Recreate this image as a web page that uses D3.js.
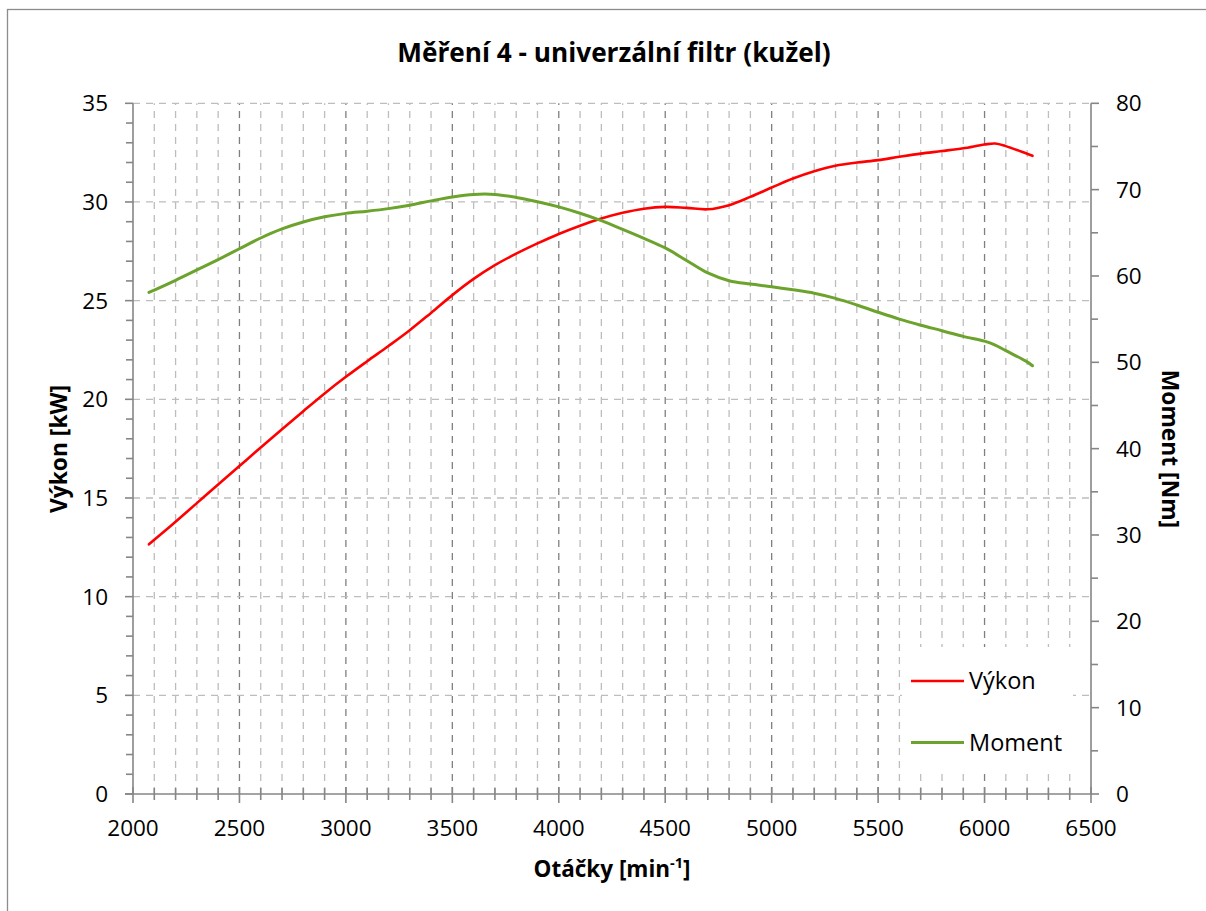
<!DOCTYPE html>
<html>
<head>
<meta charset="utf-8">
<script src="https://cdn.jsdelivr.net/npm/d3@7"></script>
<style>
  html, body { margin: 0; padding: 0; background: #fff; }
  svg { display: block; }
  text { font-family: "Open Sans", Lato, sans-serif; fill: #000; }
</style>
</head>
<body>
<svg id="chart" width="1206" height="911"></svg>
<script>
// Engine speed [rpm]
const rpm = [2075, 2100, 2200, 2300, 2400, 2500, 2600, 2700, 2800, 2900,
             3000, 3100, 3200, 3300, 3400, 3500, 3600, 3700, 3800, 3900,
             4000, 4100, 4200, 4300, 4400, 4500, 4600, 4700, 4800, 4900,
             5000, 5100, 5200, 5300, 5400, 5500, 5600, 5700, 5800, 5900,
             6000, 6050, 6100, 6200, 6225];
// Power [kW]
const vykon = [12.65, 12.88, 13.8, 14.74, 15.68, 16.62, 17.56, 18.48, 19.4, 20.3,
               21.14, 21.93, 22.7, 23.5, 24.38, 25.28, 26.1, 26.8, 27.38, 27.9,
               28.38, 28.8, 29.16, 29.45, 29.66, 29.75, 29.7, 29.63, 29.84, 30.26,
               30.73, 31.19, 31.56, 31.84, 32.0, 32.12, 32.29, 32.45, 32.58, 32.72,
               32.91, 32.96, 32.83, 32.44, 32.34];
// Torque [Nm]
const moment = [58.1, 58.37, 59.5, 60.7, 61.9, 63.15, 64.4, 65.45, 66.25, 66.85,
                67.25, 67.5, 67.8, 68.2, 68.7, 69.15, 69.45, 69.45, 69.1, 68.6,
                68.0, 67.26, 66.4, 65.4, 64.36, 63.25, 61.8, 60.35, 59.45, 59.07,
                58.76, 58.4, 58.0, 57.4, 56.64, 55.8, 55.0, 54.3, 53.66, 53.0,
                52.45, 52.0, 51.35, 50.05, 49.6];

const xTicks = [2000, 2500, 3000, 3500, 4000, 4500, 5000, 5500, 6000, 6500];
const yLeftTicks = [0, 5, 10, 15, 20, 25, 30, 35];
const yRightTicks = [0, 10, 20, 30, 40, 50, 60, 70, 80];

const title = "Měření 4 - univerzální filtr (kužel)";
const seriesNames = ["Výkon", "Moment"];

const svg = d3.select("#chart");
const plot = { left: 133, right: 1091, top: 103.3, bottom: 794 };

const x = d3.scaleLinear().domain([2000, 6500]).range([plot.left, plot.right]);
const yL = d3.scaleLinear().domain([0, 35]).range([plot.bottom, plot.top]);
const yR = d3.scaleLinear().domain([0, 80]).range([plot.bottom, plot.top]);

const axisColor = "#868686";
const gridLight = "#bdbdbd";
const gridDark = "#7f7f7f";

// outer chart frame
svg.append("rect")
  .attr("x", 7.5).attr("y", 9.5)
  .attr("width", 1220).attr("height", 920)
  .attr("fill", "#fff").attr("stroke", "#8c8c8c").attr("stroke-width", 1.3);

// vertical grid: every 100 rpm, darker every 500
const vGrid = d3.range(2100, 6500, 100);
svg.append("g").selectAll("line").data(vGrid).join("line")
  .attr("x1", d => x(d)).attr("x2", d => x(d))
  .attr("y1", plot.bottom).attr("y2", plot.top)
  .attr("stroke", d => d % 500 === 0 ? gridDark : gridLight)
  .attr("stroke-width", 1.3)
  .attr("stroke-dasharray", "7,6");

// horizontal grid at major left-axis ticks
svg.append("g").selectAll("line").data(yLeftTicks.filter(d => d > 0)).join("line")
  .attr("x1", plot.left).attr("x2", plot.right)
  .attr("y1", d => yL(d)).attr("y2", d => yL(d))
  .attr("stroke", gridLight)
  .attr("stroke-width", 1.3)
  .attr("stroke-dasharray", "7,6");

// left axis
const gL = svg.append("g");
gL.append("line").attr("x1", plot.left).attr("x2", plot.left)
  .attr("y1", plot.top).attr("y2", plot.bottom)
  .attr("stroke", axisColor).attr("stroke-width", 1.6);
gL.selectAll("line.t").data(d3.range(0, 36, 1)).join("line").attr("class", "t")
  .attr("x1", d => plot.left - (d % 5 === 0 ? 8 : 7)).attr("x2", plot.left)
  .attr("y1", d => yL(d)).attr("y2", d => yL(d))
  .attr("stroke", axisColor).attr("stroke-width", 1.6);
gL.selectAll("text").data(yLeftTicks).join("text")
  .attr("x", 108).attr("y", d => yL(d))
  .attr("dy", "0.36em").attr("text-anchor", "end")
  .attr("font-size", 22.5).text(d => d);

// right axis
const gR = svg.append("g");
gR.append("line").attr("x1", plot.right).attr("x2", plot.right)
  .attr("y1", plot.top).attr("y2", plot.bottom)
  .attr("stroke", axisColor).attr("stroke-width", 1.6);
gR.selectAll("line.t").data(d3.range(0, 81, 5)).join("line").attr("class", "t")
  .attr("x1", plot.right).attr("x2", d => plot.right + (d % 10 === 0 ? 8 : 7))
  .attr("y1", d => yR(d)).attr("y2", d => yR(d))
  .attr("stroke", axisColor).attr("stroke-width", 1.6);
gR.selectAll("text").data(yRightTicks).join("text")
  .attr("x", 1116).attr("y", d => yR(d))
  .attr("dy", "0.36em").attr("text-anchor", "start")
  .attr("font-size", 22.5).text(d => d);

// bottom axis
const gB = svg.append("g");
gB.append("line").attr("x1", plot.left - 8).attr("x2", plot.right)
  .attr("y1", plot.bottom).attr("y2", plot.bottom)
  .attr("stroke", axisColor).attr("stroke-width", 1.6);
gB.selectAll("line.t").data(d3.range(2000, 6501, 100)).join("line").attr("class", "t")
  .attr("x1", d => x(d)).attr("x2", d => x(d))
  .attr("y1", d => plot.bottom - (d % 500 === 0 ? 7 : 6))
  .attr("y2", d => plot.bottom + (d % 500 === 0 ? 9 : 6))
  .attr("stroke", axisColor).attr("stroke-width", 1.6);
gB.selectAll("text").data(xTicks).join("text")
  .attr("x", d => x(d)).attr("y", 836)
  .attr("text-anchor", "middle")
  .attr("font-size", 22.5).text(d => d);

// series
const data = rpm.map((r, i) => ({ r, p: vykon[i], m: moment[i] }));
const lineP = d3.line().x(d => x(d.r)).y(d => yL(d.p)).curve(d3.curveCatmullRom.alpha(0.5));
const lineM = d3.line().x(d => x(d.r)).y(d => yR(d.m)).curve(d3.curveCatmullRom.alpha(0.5));
const colors = ["#ff0000", "#6ba32c"];

svg.append("path").datum(data).attr("d", lineP)
  .attr("fill", "none").attr("stroke", colors[0]).attr("stroke-width", 2.6)
  .attr("stroke-linejoin", "round").attr("stroke-linecap", "round");
svg.append("path").datum(data).attr("d", lineM)
  .attr("fill", "none").attr("stroke", colors[1]).attr("stroke-width", 3)
  .attr("stroke-linejoin", "round").attr("stroke-linecap", "round");

// legend
const lg = svg.append("g");
lg.append("rect").attr("x", 902).attr("y", 647).attr("width", 171).attr("height", 126)
  .attr("fill", "#fff");
seriesNames.forEach((name, i) => {
  const cy = 681 + i * 61.5;
  lg.append("line").attr("x1", 911).attr("x2", 964).attr("y1", cy).attr("y2", cy)
    .attr("stroke", colors[i]).attr("stroke-width", i === 0 ? 2.6 : 3);
  lg.append("text").attr("x", 969).attr("y", cy).attr("dy", "0.36em")
    .attr("font-size", 23.5).text(name);
});

// titles
svg.append("text").attr("x", 614).attr("y", 62).attr("text-anchor", "middle")
  .attr("font-size", 26.2).attr("font-weight", "bold").text(title);

const xt = svg.append("text").attr("x", 612).attr("y", 877).attr("text-anchor", "middle")
  .attr("font-size", 22.5).attr("font-weight", "bold");
xt.append("tspan").text("Otáčky [min");
xt.append("tspan").attr("font-size", 14.5).attr("dy", -9).text("-1");
xt.append("tspan").attr("dy", 9).text("]");

svg.append("text").attr("transform", "translate(67,449) rotate(-90)")
  .attr("text-anchor", "middle").attr("font-size", 22.8).attr("font-weight", "bold")
  .text("Výkon [kW]");
svg.append("text").attr("transform", "translate(1162,449) rotate(90)")
  .attr("text-anchor", "middle").attr("font-size", 22.8).attr("font-weight", "bold")
  .text("Moment [Nm]");
</script>
</body>
</html>
